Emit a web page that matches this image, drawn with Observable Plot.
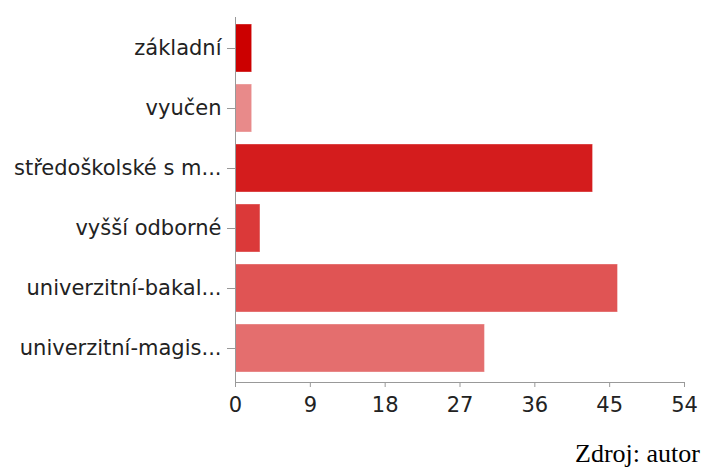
<!DOCTYPE html>
<html>
<head>
<meta charset="utf-8">
<script src="https://cdn.jsdelivr.net/npm/d3@7"></script>
<script src="https://cdn.jsdelivr.net/npm/@observablehq/plot@0.6"></script>
<style>
  html, body { margin: 0; padding: 0; background: #fff; }
  #wrap { position: relative; width: 701px; height: 467px; overflow: hidden; }
  #caption { position: absolute; left: 575px; top: 441px; font-family: "Liberation Serif", "Times New Roman", serif; font-size: 26px; line-height: 26px; color: #000; white-space: nowrap; }
</style>
</head>
<body>
<div id="wrap">
  <div id="chart"></div>
  <div id="caption">Zdroj: autor</div>
</div>
<script>
const categories = ["základní", "vyučen", "středoškolské s m...", "vyšší odborné", "univerzitní-bakal...", "univerzitní-magis..."];
const values = [2, 2, 43, 3, 46, 30];
const xTicks = [0, 9, 18, 27, 36, 45, 54];
const palette = ["#cc0000", "#e88a8a", "#d41c1d", "#db3939", "#e05454", "#e46e6e"];

const data = categories.map((c, i) => ({category: c, value: values[i], color: palette[i]}));

const chart = Plot.plot({
  width: 701,
  height: 430,
  marginLeft: 235,
  marginRight: 17,
  marginTop: 17,
  marginBottom: 48,
  style: {fontFamily: "DejaVu Sans", fontSize: "21px", color: "#222", background: "#fff"},
  x: {domain: [0, 54], ticks: xTicks},
  y: {domain: categories, paddingInner: 0.2, paddingOuter: 0.1, insetTop: 1, insetBottom: 4, label: null},
  color: {type: "identity"},
  marks: [
    Plot.barX(data, {x: "value", y: "category", fill: "color", stroke: "#fff", strokeOpacity: 0.35, strokeWidth: 1}),
    Plot.ruleX([0], {stroke: "#999", strokeWidth: 1}),
    Plot.frame({anchor: "bottom", stroke: "#999"}),
    Plot.axisX({ticks: xTicks, tickSize: 5, tickPadding: 10, stroke: "#999", fill: "#222", label: null}),
    Plot.axisY({tickSize: 8, tickPadding: 6, stroke: "#999", fill: "#222", label: null})
  ]
});
document.getElementById("chart").appendChild(chart);
</script>
</body>
</html>
